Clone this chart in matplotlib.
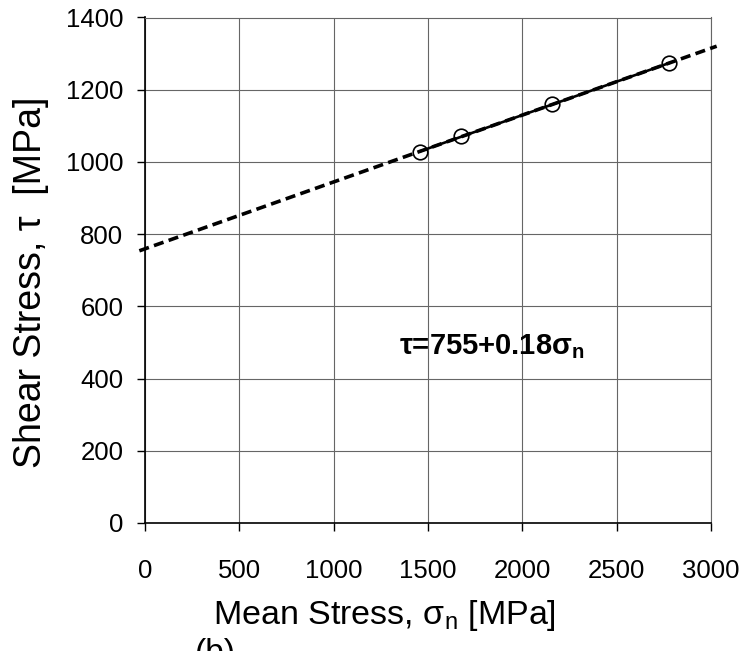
import numpy as np
import matplotlib
matplotlib.use("Agg")
import matplotlib.pyplot as plt

# data
mean_stress = [1460, 1675, 2155, 2780]
shear_stress = [1027, 1072, 1160, 1273]
x_ticks = [0, 500, 1000, 1500, 2000, 2500, 3000]
y_ticks = [0, 200, 400, 600, 800, 1000, 1200, 1400]
fit_range = [-30, 3030]

plt.rcParams['font.family'] = ['Liberation Sans', 'DejaVu Sans']
plt.rcParams['mathtext.fontset'] = 'custom'
plt.rcParams['mathtext.rm'] = 'Liberation Sans'
plt.rcParams['mathtext.bf'] = 'Liberation Sans:bold'
plt.rcParams['mathtext.default'] = 'regular'

fig = plt.figure(figsize=(7.39, 6.51), dpi=100)
ax = fig.add_axes([145 / 739, 1 - 523 / 651, 566 / 739, 505.5 / 651])

# linear fit through the points
slope, icpt = np.polyfit(mean_stress, shear_stress, 1)
xf = np.array(fit_range)
ax.plot(xf, icpt + slope * xf, color='black', lw=2.6, ls=(0, (2.8, 1.5)),
        clip_on=False, zorder=3)
xs = np.array([mean_stress[0], mean_stress[-1]])
ax.plot(xs, icpt + slope * xs, color='black', lw=1.9, zorder=4)
ax.plot(mean_stress, shear_stress, 'o', ms=10.5, mfc='none', mec='black',
        mew=1.2, zorder=5)

ax.text(1345, 467, r'τ=755+0.18σ$_\mathbf{n}$', fontsize=21, fontweight='bold',
        va='baseline', ha='left')

ax.set_xlim(0, 3000)
ax.set_ylim(0, 1400)
ax.set_xticks(x_ticks)
ax.set_yticks(y_ticks)
ax.tick_params(axis='both', direction='out', length=6, width=1, labelsize=18.5)
ax.tick_params(axis='x', pad=20)
ax.tick_params(axis='y', pad=9.5)
ax.grid(True, color='#666666', lw=0.8)
ax.set_axisbelow(True)
for s in ['top', 'right']:
    ax.spines[s].set_color('#666666')
    ax.spines[s].set_linewidth(0.8)
for s in ['left', 'bottom']:
    ax.spines[s].set_linewidth(1.2)

ax.set_xlabel('Mean Stress, σ$_n$ [MPa]', fontsize=24.5, va='center')
ax.xaxis.set_label_coords(0.424, -0.182)
ax.set_ylabel('Shear Stress, τ  [MPa]', fontsize=27, va='center')
ax.yaxis.set_label_coords(-0.201, 0.477)

fig.text(195 / 739, 1 - 638 / 651, '(b)', fontsize=24, va='top', ha='left')

fig.savefig('out.png', dpi=100)
